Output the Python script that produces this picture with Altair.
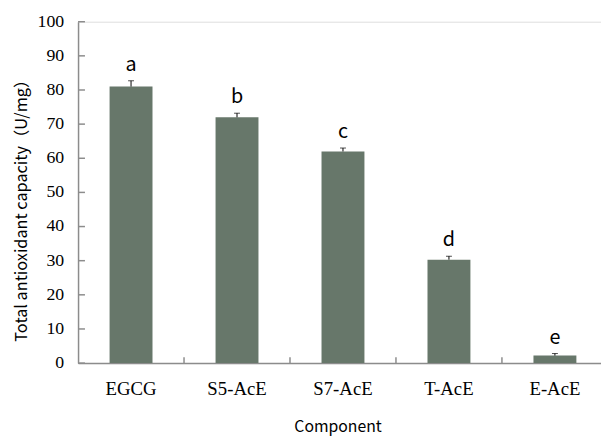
import altair as alt
import pandas as pd

categories = ["EGCG", "S5-AcE", "S7-AcE", "T-AcE", "E-AcE"]
values = [81.0, 72.0, 62.0, 30.3, 2.2]
errors = [1.7, 1.2, 1.0, 1.0, 0.6]
letters = ["a", "b", "c", "d", "e"]
y_ticks = [0, 10, 20, 30, 40, 50, 60, 70, 80, 90, 100]

df = pd.DataFrame({"cat": categories, "val": values, "err": errors, "lab": letters})
df["top"] = df["val"] + df["err"]
tick_df = pd.DataFrame({"t": y_ticks})
bound_df = pd.DataFrame({"cat": categories[1:]})

W, H = 530, 346
XR = [0, 537]
AX = "#8c8c8c"
SANS = "Noto Sans CJK SC"
SERIF = "Liberation Serif"

xscale = alt.Scale(domain=categories, range=XR, paddingInner=0.595, paddingOuter=0.2975)
yscale = alt.Scale(domain=[0, 100], nice=False, zero=True)

x_axis = alt.Axis(title="Component", labelAngle=0, ticks=False, tickSize=0,
                  labelFont=SERIF, labelFontSize=19, labelColor="black",
                  labelPadding=26, labelBaseline="middle", labelOverlap=False,
                  domainColor=AX, domainWidth=1.5,
                  titleFont=SANS, titleFontSize=16, titleFontWeight="normal",
                  titleColor="black", titleX=263, titleY=64,
                  titleBaseline="middle", titleAlign="center")
y_axis = alt.Axis(title="Total antioxidant capacity（U/mg）", values=y_ticks,
                  grid=False, ticks=False, tickSize=0, labels=False,
                  domainColor=AX, domainWidth=1.5,
                  titleFont=SANS, titleFontSize=16.5, titleFontWeight="normal",
                  titleColor="black", titleX=-57, titleY=187,
                  titleBaseline="middle", titleAlign="center", titleAngle=-90)

xs = alt.X("cat:N", sort=categories, scale=xscale, axis=x_axis)

bars = alt.Chart(df).mark_bar(color="#67776a").encode(
    x=xs, y=alt.Y("val:Q", scale=yscale, axis=y_axis))

err_rule = alt.Chart(df).mark_rule(color="black", strokeWidth=1).encode(
    x=xs, y=alt.Y("val:Q", scale=yscale, axis=y_axis), y2="top:Q")
err_cap = alt.Chart(df).mark_tick(color="black", size=6, thickness=1).encode(
    x=xs, y=alt.Y("top:Q", scale=yscale, axis=y_axis))
labels = alt.Chart(df).mark_text(font=SANS, fontSize=20, color="black",
                                 baseline="alphabetic", dy=-10).encode(
    x=xs, y=alt.Y("top:Q", scale=yscale, axis=y_axis), text="lab:N")

yticks = alt.Chart(tick_df).mark_rule(color=AX, strokeWidth=1.5).encode(
    y=alt.Y("t:Q", scale=yscale, axis=y_axis), x=alt.value(0), x2=alt.value(7))

ylabels = alt.Chart(tick_df).mark_text(font=SERIF, fontSize=18, color="black",
                                       align="right", baseline="middle").encode(
    y=alt.Y("t:Q", scale=yscale, axis=y_axis), x=alt.value(-14), text="t:Q")

xticks = alt.Chart(bound_df).mark_rule(color=AX, strokeWidth=1.5).encode(
    x=alt.X("cat:N", bandPosition=0,
            scale=alt.Scale(domain=categories, range=XR, paddingInner=0, paddingOuter=0),
            axis=None),
    y=alt.value(H), y2=alt.value(H - 6))

main = alt.layer(bars, err_rule, err_cap, labels, yticks, ylabels)
chart = alt.layer(main, xticks).resolve_scale(x="independent").properties(
    width=W, height=H,
    autosize=alt.AutoSizeParams(type="none"),
    padding={"left": 71, "top": 11, "right": 0, "bottom": 72},
).configure_view(stroke=None).configure(background="white")

chart.save("out.html", embed_options={"renderer": "svg", "actions": False})
